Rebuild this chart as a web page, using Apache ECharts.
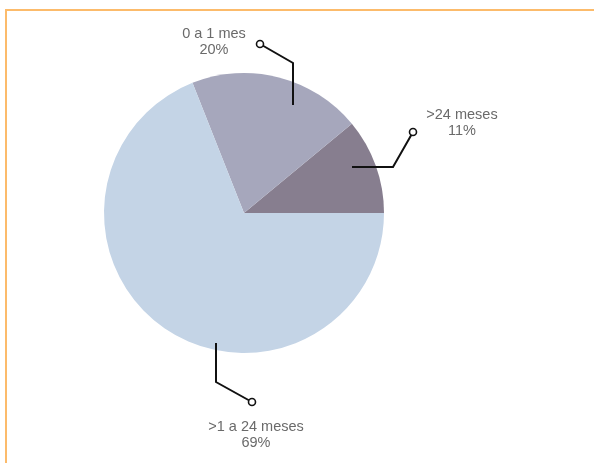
<!DOCTYPE html>
<html>
<head>
<meta charset="utf-8">
<script src="https://cdn.jsdelivr.net/npm/echarts@6/dist/echarts.min.js"></script>
<style>
html,body{margin:0;padding:0;background:#fff;}
#frame{position:absolute;left:5px;top:9px;right:0;bottom:0;border-top:2px solid #fcbb6b;border-left:2px solid #fcbb6b;}
#chart{position:absolute;left:0;top:0;width:594px;height:463px;}
</style>
</head>
<body>
<div id="frame"></div>
<div id="chart"></div>
<script>
// Data
const categories = ['>24 meses', '0 a 1 mes', '>1 a 24 meses'];
const values = [11, 20, 69];
const colors = ['#877e8f', '#a6a7bc', '#c4d4e6'];

// Layout (relative to pie centre), styling only
const CX = 244, CY = 213, R = 140;
const labelPos = [[218, -90], [-30, -171], [12, 222]];
const leaderLines = [
  [[108, -46], [149, -46], [169, -81]],
  [[49, -108], [49, -150], [16, -169]],
  [[-28, 130], [-28, 169], [8, 189]]
];

const chart = echarts.init(document.getElementById('chart'));
const data = categories.map((c, i) => ({ name: c, value: values[i], itemStyle: { color: colors[i] } }));

const graphics = [];
leaderLines.forEach(pts => {
  graphics.push({
    type: 'polyline', z: 100,
    shape: { points: pts.map(p => [CX + p[0], CY + p[1]]) },
    style: { stroke: '#111', lineWidth: 2, fill: null }
  });
  const p = pts[pts.length - 1];
  graphics.push({
    type: 'circle', z: 101,
    shape: { cx: CX + p[0], cy: CY + p[1], r: 3.5 },
    style: { fill: '#fff', stroke: '#111', lineWidth: 1.6 }
  });
});

chart.setOption({
  animation: false,
  series: [{
    type: 'pie',
    center: [CX, CY],
    radius: [0, R],
    startAngle: 0,
    clockwise: false,
    silent: true,
    data: data,
    label: {
      show: true,
      formatter: p => p.name + '\n' + p.value + '%',
      color: '#6a6a6a',
      fontFamily: 'Liberation Sans, Arial, sans-serif',
      fontSize: 14.5,
      lineHeight: 16,
      align: 'center'
    },
    labelLine: { show: false },
    labelLayout: function (params) {
      const i = params.dataIndex;
      return {
        x: CX + labelPos[i][0],
        y: CY + labelPos[i][1],
        align: 'center',
        verticalAlign: 'middle'
      };
    }
  }],
  graphic: graphics
});
</script>
</body>
</html>
